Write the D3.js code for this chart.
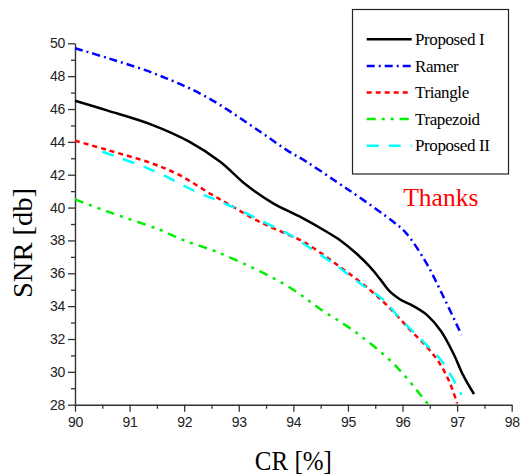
<!DOCTYPE html>
<html>
<head>
<meta charset="utf-8">
<script src="https://cdn.jsdelivr.net/npm/d3@7"></script>
<style>
  html, body { margin: 0; padding: 0; background: #fff; }
  svg { display: block; }
</style>
</head>
<body>
<svg id="chart" width="523" height="476"></svg>
<script>
// ---- data ----
const seriesNames = ["Proposed I", "Ramer", "Triangle", "Trapezoid", "Proposed II"];

const proposedIX = [90, 90.6, 91.4, 92.1, 92.66, 93.14, 93.63, 94.12, 94.61, 94.85, 95.15, 95.4, 95.6, 95.77, 95.95, 96.2, 96.45, 96.7, 96.93, 97.11, 97.31];
const proposedIY = [46.5, 45.9, 45.05, 44.0, 42.79, 41.37, 40.26, 39.45, 38.53, 38.03, 37.22, 36.4, 35.6, 34.88, 34.42, 34.0, 33.45, 32.5, 31.13, 29.8, 28.64];

const ramerX = [90, 90.6, 91.5, 92.4, 93.4, 93.88, 94.24, 94.79, 95.2, 95.83, 96.07, 96.44, 96.75, 97.08];
const ramerY = [49.7, 49.1, 48.1, 46.75, 44.6, 43.5, 42.79, 41.57, 40.65, 39.14, 38.43, 36.6, 34.57, 32.25];

const triangleX = [90, 90.6, 91.4, 91.9, 92.5, 92.84, 93.2, 93.57, 94.12, 94.34, 94.85, 95.4, 95.77, 96.14, 96.44, 96.68, 96.87, 97.0];
const triangleY = [44.07, 43.5, 42.7, 42.0, 40.8, 40.16, 39.45, 38.84, 38.03, 37.6, 36.4, 35.0, 33.87, 32.55, 31.54, 30.52, 29.3, 28.08];

const trapezoidX = [90, 90.6, 91.55, 92.0, 92.6, 93.4, 94.0, 94.49, 95.1, 95.71, 96.04, 96.29, 96.49];
const trapezoidY = [40.5, 39.75, 38.65, 38.0, 37.3, 36.1, 35.0, 33.83, 32.51, 30.89, 29.77, 28.76, 27.95];

const proposedIIX = [90.5, 91.4, 92.2, 92.66, 93.08, 93.51, 93.94, 94.27, 94.73, 95.22, 95.65, 95.95, 96.38, 96.75, 97.08];
const proposedIIY = [43.4, 42.3, 41.0, 40.36, 39.75, 39.04, 38.33, 37.62, 36.6, 35.39, 34.38, 33.26, 31.84, 30.52, 28.6];

const xTicks = [90, 91, 92, 93, 94, 95, 96, 97, 98];
const xMinorTicks = [90.5, 91.5, 92.5, 93.5, 94.5, 95.5, 96.5, 97.5];
const yTicks = [28, 30, 32, 34, 36, 38, 40, 42, 44, 46, 48, 50];
const yMinorTicks = [29, 31, 33, 35, 37, 39, 41, 43, 45, 47, 49];

const xLabel = "CR [%]";
const yLabel = "SNR [db]";
const note = "Thanks";

// ---- styles ----
const colors = ["#000000", "#0000ff", "#ff0000", "#00ee00", "#00ffff"];
const dashes = [null, "8,4,2,4", "5,4", "9,6,3,6,3,6", "12,10"];

const svg = d3.select("#chart");
const x = d3.scaleLinear().domain([90, 98]).range([75, 511.7]);
const y = d3.scaleLinear().domain([28, 50]).range([404.7, 43.3]);

const data = [
  d3.zip(proposedIX, proposedIY),
  d3.zip(ramerX, ramerY),
  d3.zip(triangleX, triangleY),
  d3.zip(trapezoidX, trapezoidY),
  d3.zip(proposedIIX, proposedIIY)
];

// axes
const axisColor = "#333";
const tickFont = "'Liberation Sans', Arial, sans-serif";

svg.append("g").attr("transform", `translate(0,${y(28)})`)
  .call(d3.axisBottom(x).tickValues(xTicks).tickSize(7).tickSizeOuter(0).tickPadding(5).tickFormat(d3.format("d")));
svg.append("g").attr("transform", `translate(0,${y(28)})`)
  .call(d3.axisBottom(x).tickValues(xMinorTicks).tickSize(4).tickSizeOuter(0).tickFormat(""))
  .select(".domain").remove();

svg.append("g").attr("transform", `translate(${x(90)},0)`)
  .call(d3.axisLeft(y).tickValues(yTicks).tickSize(7).tickSizeOuter(0).tickPadding(3).tickFormat(d3.format("d")));
svg.append("g").attr("transform", `translate(${x(90)},0)`)
  .call(d3.axisLeft(y).tickValues(yMinorTicks).tickSize(4).tickSizeOuter(0).tickFormat(""))
  .select(".domain").remove();

svg.selectAll(".domain").attr("stroke", axisColor).attr("stroke-width", 1.4);
svg.selectAll(".tick line").attr("stroke", axisColor).attr("stroke-width", 1.3);
svg.selectAll(".tick text").attr("fill", "#222").style("font-family", tickFont).style("font-size", "14px").style("letter-spacing", "-0.3px");

// lines
const line = d3.line().x(d => x(d[0])).y(d => y(d[1])).curve(d3.curveCatmullRom.alpha(0.5));
data.forEach((pts, i) => {
  svg.append("path")
    .datum(pts)
    .attr("d", line)
    .attr("fill", "none")
    .attr("stroke", colors[i])
    .attr("stroke-width", 2.5)
    .attr("stroke-dasharray", dashes[i]);
});

// axis labels
const serif = "'Liberation Serif', 'Times New Roman', serif";
svg.append("text")
  .attr("x", (x(90) + x(98)) / 2).attr("y", 470)
  .attr("text-anchor", "middle")
  .attr("textLength", 77).attr("lengthAdjust", "spacingAndGlyphs")
  .style("font-family", serif).style("font-size", "27px")
  .text(xLabel);

svg.append("text")
  .attr("transform", "translate(32,243) rotate(-90)")
  .attr("text-anchor", "middle")
  .attr("textLength", 110).attr("lengthAdjust", "spacingAndGlyphs")
  .style("font-family", serif).style("font-size", "28px")
  .text(yLabel);

// legend
const lg = svg.append("g");
lg.append("rect")
  .attr("x", 352.5).attr("y", 9.5).attr("width", 156).attr("height", 164.5)
  .attr("fill", "#fff").attr("stroke", "#222").attr("stroke-width", 1.2);
seriesNames.forEach((name, i) => {
  const ry = 39.3 + i * 26.6;
  lg.append("line")
    .attr("x1", 366.7).attr("x2", 411.7).attr("y1", ry).attr("y2", ry)
    .attr("stroke", colors[i]).attr("stroke-width", 2.5)
    .attr("stroke-dasharray", dashes[i]);
  lg.append("text")
    .attr("x", 415).attr("y", ry + 5.7)
    .style("font-family", serif).style("font-size", "17px")
    .style("letter-spacing", "-0.4px")
    .text(name);
});

svg.append("text")
  .attr("x", 403.3).attr("y", 206)
  .attr("textLength", 75).attr("lengthAdjust", "spacingAndGlyphs")
  .attr("fill", "#ff0000")
  .style("font-family", serif).style("font-size", "26px")
  .text(note);
</script>
</body>
</html>
